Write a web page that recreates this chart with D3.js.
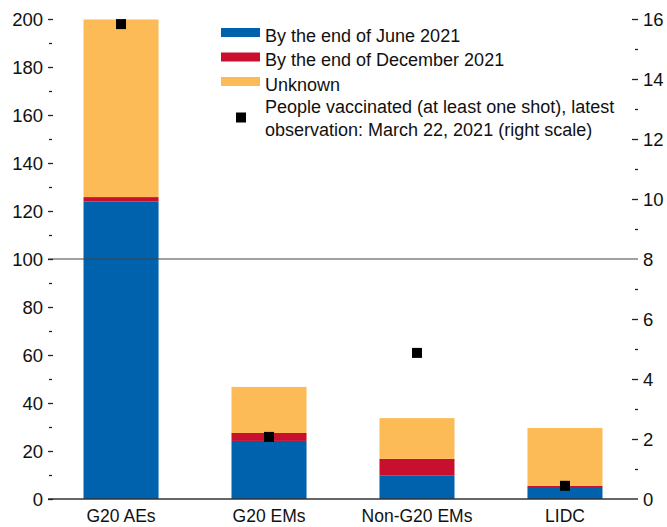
<!DOCTYPE html>
<html>
<head>
<meta charset="utf-8">
<script src="https://cdn.jsdelivr.net/npm/d3@7"></script>
<style>
  body { margin: 0; background: #fff; }
  text { font-family: "Liberation Sans", Arial, sans-serif; fill: #111; }
</style>
</head>
<body>
<div id="chart"></div>
<script>
// chart size
const width = 667, height = 527;
const margin = {top: 19, right: 29, bottom: 28, left: 48};

// data
const categories = ["G20 AEs", "G20 EMs", "Non-G20 EMs", "LIDC"];
const byJune = [124, 24.2, 9.7, 5.0];
const byDecember = [1.8, 3.3, 7.0, 0.5];
const unknown = [74, 19.2, 17.0, 24.1];
const vaccinated = [15.83, 2.07, 4.87, 0.44];   // right scale
const leftTicks = [0, 20, 40, 60, 80, 100, 120, 140, 160, 180, 200];
const rightTicks = [0, 2, 4, 6, 8, 10, 12, 14, 16];
const seriesNames = ["By the end of June 2021", "By the end of December 2021", "Unknown"];
const dotLabel = ["People vaccinated (at least one shot), latest", "observation: March 22, 2021 (right scale)"];

const colors = ["#0061ad", "#c8102e", "#fdbb58"];

const svg = d3.select("#chart").append("svg")
    .attr("width", width)
    .attr("height", height);

const x = d3.scaleBand()
    .domain(categories)
    .range([margin.left, width - margin.right])
    .paddingInner(0.493)
    .paddingOuter(0.24);

const y = d3.scaleLinear()
    .domain([0, 200])
    .range([height - margin.bottom, margin.top]);

const y2 = d3.scaleLinear()
    .domain([0, 16])
    .range([height - margin.bottom, margin.top]);

// stack the three series
const rows = categories.map((c, i) => ({cat: c, s0: byJune[i], s1: byDecember[i], s2: unknown[i]}));
const stacked = d3.stack().keys(["s0", "s1", "s2"])(rows);

svg.append("g")
  .selectAll("g")
  .data(stacked)
  .join("g")
    .attr("fill", (d, i) => colors[i])
  .selectAll("rect")
  .data(d => d)
  .join("rect")
    .attr("x", d => x(d.data.cat))
    .attr("width", x.bandwidth())
    .attr("y", d => y(d[1]))
    .attr("height", d => y(d[0]) - y(d[1]));

// reference line at 100 and the zero line
svg.append("line")
    .attr("x1", margin.left).attr("x2", width - margin.right)
    .attr("y1", y(100)).attr("y2", y(100))
    .attr("stroke", "#444").attr("stroke-width", 1.2);
svg.append("line")
    .attr("x1", margin.left).attr("x2", width - margin.right)
    .attr("y1", y(0)).attr("y2", y(0))
    .attr("stroke", "#333").attr("stroke-width", 1.5);

// left axis
svg.append("g")
    .attr("transform", `translate(${margin.left},0)`)
    .call(d3.axisRight(y).tickValues(leftTicks).tickSize(5).tickFormat(""))
    .call(g => g.select(".domain").remove())
    .selectAll(".tick line").attr("stroke", "#222").attr("stroke-width", 1.3);
svg.append("g")
    .attr("transform", `translate(${margin.left + 1},0)`)
    .call(d3.axisRight(y).tickValues(d3.range(10, 200, 20)).tickSize(3).tickFormat(""))
    .call(g => g.select(".domain").remove())
    .selectAll(".tick line").attr("stroke", "#222").attr("stroke-width", 1.3);
svg.append("g")
  .selectAll("text")
  .data(leftTicks)
  .join("text")
    .attr("x", margin.left - 5)
    .attr("y", d => y(d))
    .attr("dy", "0.36em")
    .attr("text-anchor", "end")
    .style("font-size", "18.5px")
    .text(d => d);

// right axis
const rx = width - margin.right;
svg.append("g")
    .attr("transform", `translate(${rx},0)`)
    .call(d3.axisLeft(y2).tickValues(rightTicks.filter(d => d !== 8 && d !== 0)).tickSize(6).tickFormat(""))
    .call(g => g.select(".domain").remove())
    .selectAll(".tick line").attr("stroke", "#222").attr("stroke-width", 1.3);
svg.append("g")
    .attr("transform", `translate(${rx},0)`)
    .call(d3.axisLeft(y2).tickValues(d3.range(1, 16, 2)).tickSize(3).tickFormat(""))
    .call(g => g.select(".domain").remove())
    .selectAll(".tick line").attr("stroke", "#222").attr("stroke-width", 1.3);
svg.append("g")
  .selectAll("text")
  .data(rightTicks)
  .join("text")
    .attr("x", rx + 5)
    .attr("y", d => y2(d))
    .attr("dy", "0.36em")
    .style("font-size", "18.5px")
    .text(d => d);

// category labels
svg.append("g")
  .selectAll("text")
  .data(categories)
  .join("text")
    .attr("x", d => x(d) + x.bandwidth() / 2)
    .attr("y", height - 5)
    .attr("text-anchor", "middle")
    .style("font-size", "17.5px")
    .text(d => d);

// squares on the right scale
const sq = 10;
svg.append("g")
  .selectAll("rect")
  .data(vaccinated)
  .join("rect")
    .attr("x", (d, i) => x(categories[i]) + x.bandwidth() / 2 - sq / 2)
    .attr("y", d => y2(d) - sq / 2)
    .attr("width", sq)
    .attr("height", sq)
    .attr("fill", "#000");

// legend
const legend = svg.append("g").attr("transform", "translate(221,28)");
seriesNames.forEach((name, i) => {
    legend.append("rect")
        .attr("x", 0).attr("y", i * 24.5)
        .attr("width", 39).attr("height", 9)
        .attr("fill", colors[i]);
    legend.append("text")
        .attr("x", 44).attr("y", i * 24.5 + 13.5)
        .style("font-size", "18px")
        .text(name);
});
legend.append("rect")
    .attr("x", 15).attr("y", 84.5)
    .attr("width", sq).attr("height", sq)
    .attr("fill", "#000");
dotLabel.forEach((line, i) => {
    legend.append("text")
        .attr("x", 44).attr("y", 85 + i * 23.3)
        .style("font-size", "18px")
        .text(line);
});
</script>
</body>
</html>
